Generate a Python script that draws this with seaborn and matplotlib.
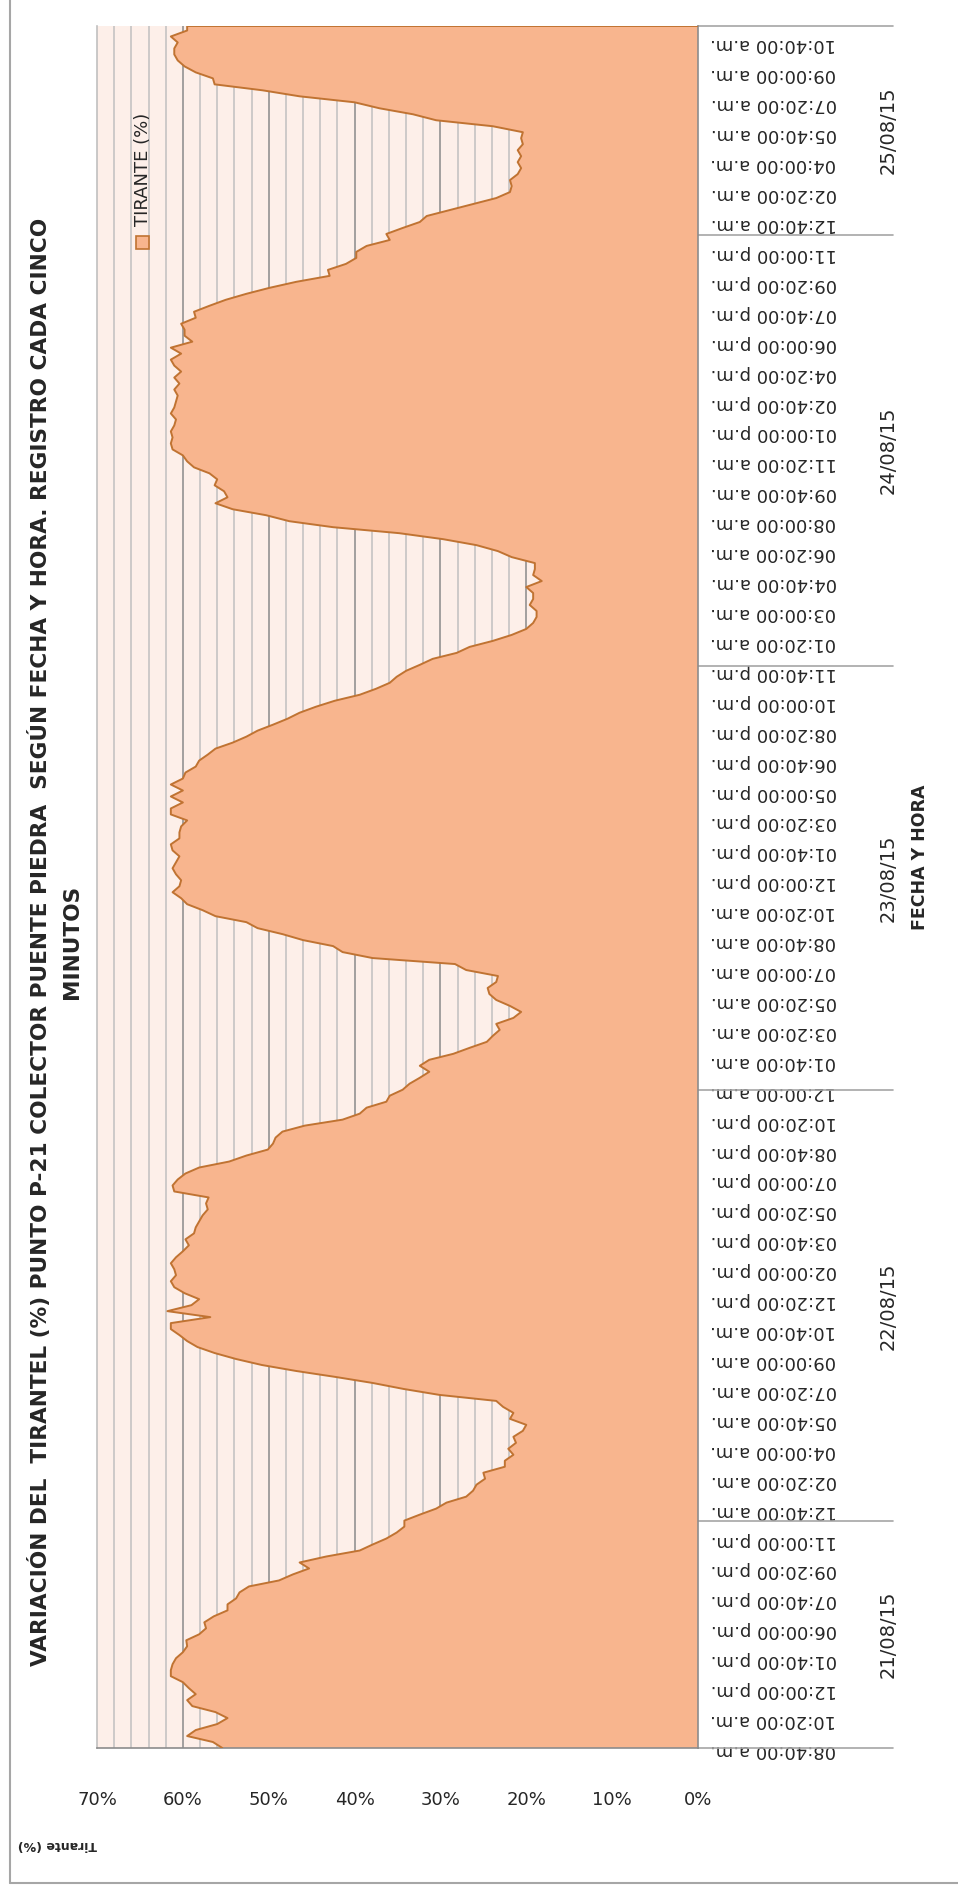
import numpy as np
import matplotlib
matplotlib.use("Agg")
import matplotlib.pyplot as plt
import seaborn as sns
from matplotlib.lines import Line2D
from matplotlib.patches import Rectangle

sns.set_style("white")
plt.rcParams['font.family'] = ['DejaVu Sans']

# tirante (%), one value every 4 records (20 minutes)
tirante = [
    55.4, 56.5, 59.5, 58.5, 56.0, 54.8, 56.2, 58.9, 59.5, 58.5, 59.3, 60.0, 61.4, 61.4, 61.2, 60.8,
    60.0, 59.5, 59.6, 58.1, 57.3, 57.5, 56.4, 54.8, 54.8, 53.8, 53.4, 52.3, 48.8, 47.2, 45.3, 46.4,
    43.3, 39.4, 37.9, 36.3, 35.1, 34.2, 34.2, 32.4, 30.5, 29.3, 27.0,
    26.2, 25.8, 24.8, 25.0, 22.5, 22.5, 21.5, 22.1, 21.2, 21.5, 20.4, 20.0, 21.9, 21.5, 22.7, 23.5,
    30.1, 34.3, 37.9, 42.2, 46.8, 50.8, 53.8, 56.3, 58.3, 59.5, 60.4, 61.4, 61.4, 56.8, 61.8, 59.0,
    58.1, 59.8, 61.0, 61.4, 60.8, 61.0, 61.4, 60.8, 60.0,
    59.3, 59.7, 58.7, 58.5, 58.1, 57.7, 57.1, 57.3, 57.0, 61.0, 61.2, 60.6, 59.7, 58.1, 54.6, 52.6,
    50.1, 49.5, 49.2, 48.4, 45.8, 41.4, 39.4, 38.6, 36.3, 35.9, 34.4, 33.6, 32.4, 31.3, 32.4, 31.3,
    28.5, 26.6, 24.6, 23.9, 23.1, 23.5, 21.5, 20.6, 21.9,
    23.5, 24.3, 24.5, 23.5, 23.3, 27.0, 28.3, 37.9, 41.4, 42.5, 46.0, 48.4, 51.3, 52.6, 56.2, 57.7,
    59.5, 60.2, 61.2, 60.4, 60.2, 60.8, 61.2, 60.8, 60.4, 61.2, 61.4, 60.4, 60.4, 60.2, 59.5, 61.4,
    61.4, 60.0, 61.4, 60.0, 61.4, 60.0, 59.7, 58.5, 58.1,
    57.1, 56.2, 54.2, 52.6, 51.3, 49.5, 47.8, 46.4, 44.5, 42.3, 39.4, 37.5, 35.9, 35.1, 34.0, 32.4,
    30.9, 28.1, 26.6, 23.9, 21.7, 20.0, 19.2, 18.8, 18.8, 19.6, 19.2, 19.2, 20.0, 18.2, 19.2, 19.0,
    19.0, 21.7, 23.3, 25.8, 29.7, 34.8, 42.5, 47.6, 50.3,
    54.2, 56.2, 54.8, 55.2, 56.3, 56.0, 56.9, 58.7, 59.5, 60.0, 61.2, 61.4, 61.2, 61.4, 61.0, 60.8,
    61.4, 61.0, 60.8, 60.6, 61.0, 60.4, 61.0, 60.2, 61.0, 61.4, 60.2, 61.4, 58.9, 59.8, 59.8, 60.2,
    58.5, 58.7, 56.9, 55.0, 52.6, 49.9, 46.8, 42.9, 43.1,
    41.0, 39.8, 39.8, 38.6, 35.9, 36.3, 34.4, 32.4, 31.6, 28.9, 26.2, 23.5, 21.9, 21.7, 21.9, 21.0,
    20.6, 21.0, 20.6, 21.0, 20.4, 20.6, 20.4, 23.9, 30.5, 33.2, 37.1, 40.0, 46.4, 50.7, 56.3, 56.5,
    58.5, 59.8, 60.6, 61.0, 61.0, 60.6, 61.4, 59.5, 59.5,
]
step = 4            # records between two values above
n_records = 1152    # 5-minute records on the category axis

# category labels, one every 20 records
hora_labels = [
    '08:40:00 a.m.', '10:20:00 a.m.', '12:00:00 p.m.', '01:40:00 p.m.', '06:00:00 p.m.',
    '07:40:00 p.m.', '09:20:00 p.m.', '11:00:00 p.m.',
    '12:40:00 a.m.', '02:20:00 a.m.', '04:00:00 a.m.', '05:40:00 a.m.', '07:20:00 a.m.',
    '09:00:00 a.m.', '10:40:00 a.m.', '12:20:00 p.m.', '02:00:00 p.m.', '03:40:00 p.m.',
    '05:20:00 p.m.', '07:00:00 p.m.', '08:40:00 p.m.', '10:20:00 p.m.',
    '12:00:00 a.m.', '01:40:00 a.m.', '03:20:00 a.m.', '05:20:00 a.m.', '07:00:00 a.m.',
    '08:40:00 a.m.', '10:20:00 a.m.', '12:00:00 p.m.', '01:40:00 p.m.', '03:20:00 p.m.',
    '05:00:00 p.m.', '06:40:00 p.m.', '08:20:00 p.m.', '10:00:00 p.m.', '11:40:00 p.m.',
    '01:20:00 a.m.', '03:00:00 a.m.', '04:40:00 a.m.', '06:20:00 a.m.', '08:00:00 a.m.',
    '09:40:00 a.m.', '11:20:00 a.m.', '01:00:00 p.m.', '02:40:00 p.m.', '04:20:00 p.m.',
    '06:00:00 p.m.', '07:40:00 p.m.', '09:20:00 p.m.', '11:00:00 p.m.',
    '12:40:00 a.m.', '02:20:00 a.m.', '04:00:00 a.m.', '05:40:00 a.m.', '07:20:00 a.m.',
    '09:00:00 a.m.', '10:40:00 a.m.',
]
label_every = 20

fechas = ['21/08/15', '22/08/15', '23/08/15', '24/08/15', '25/08/15']
records_per_day = [152, 288, 284, 288, 140]

pct_ticks = [0, 10, 20, 30, 40, 50, 60, 70]

FILL = '#F8B58E'
EDGE = '#C07332'
BG = '#FDEFE9'
GRID_MINOR = '#C0C0C0'
GRID_MAJOR = '#8A8A8A'
AXIS = '#8C8C8C'

W, H = 958, 1892
fig = plt.figure(figsize=(W / 100, H / 100), dpi=100)
ax = fig.add_axes([97 / W, 144 / H, 601 / W, 1722 / H])

pos = np.arange(len(tirante)) * step
vals = np.array(tirante)
top = n_records - 1

ax.set_facecolor(BG)
for v in range(2, 70, 2):
    ax.axvline(v, color=GRID_MAJOR if v % 10 == 0 else GRID_MINOR, lw=1.1, zorder=0.5)

ax.fill_betweenx(pos, 0, vals, facecolor=FILL, edgecolor='none', zorder=2)
sns.lineplot(x=vals, y=pos, orient='y', sort=False, color=EDGE, lw=1.4, ax=ax, zorder=3)
ax.hlines(top, 0, vals[-1], color=EDGE, lw=1.4, zorder=3)

ax.set_xlim(70, 0)
ax.set_ylim(0, top)

ax.set_xticks(pct_ticks)
ax.set_xticklabels([f'{p}%' for p in pct_ticks], fontsize=13)
ax.tick_params(axis='x', length=0, pad=31)

ax.yaxis.tick_right()
ax.set_yticks(np.arange(len(hora_labels)) * label_every)
ax.set_yticklabels(hora_labels, rotation=180, fontsize=13,
                   bbox=dict(facecolor='white', edgecolor='none', boxstyle='square,pad=0.3'))
ax.tick_params(axis='y', length=0, pad=9)
ax.set_xlabel('')
ax.set_ylabel('')

ax.spines['top'].set_visible(False)
ax.spines['left'].set_color(GRID_MINOR)
ax.spines['right'].set_color(AXIS)
ax.spines['bottom'].set_color(AXIS)
for s in ['left', 'right', 'bottom']:
    ax.spines[s].set_linewidth(1.2)

# date groups below the hour labels
bounds = np.concatenate([[0], np.cumsum(records_per_day)]) - 0.5
bounds[0], bounds[-1] = 0, top
trans = ax.get_yaxis_transform()
for b in bounds:
    ax.plot([1.0, 1.325], [b, b], color='#A6A6A6', lw=1.2, transform=trans,
            clip_on=False, zorder=1)
for f, a, b in zip(fechas, bounds[:-1], bounds[1:]):
    ax.text(1.316, (a + b) / 2, f, rotation=90, ha='center', va='center',
            fontsize=14, transform=trans)

fig.text(920 / W, 1 - 857 / H, 'FECHA Y HORA', rotation=90, ha='center', va='center',
         fontsize=12.5, fontweight='bold')
fig.text(57 / W, 1 - 1844 / H, 'Tirante (%)', rotation=180, ha='center', va='center',
         fontsize=9, fontweight='bold')

fig.text(55 / W, 1 - 942 / H,
         'VARIACIÓN DEL  TIRANTEL (%) PUNTO P-21 COLECTOR PUENTE PIEDRA  SEGÚN FECHA Y HORA. '
         'REGISTRO CADA CINCO\nMINUTOS',
         rotation=90, ha='center', va='center', multialignment='center',
         fontsize=15.6, fontweight='bold', linespacing=1.65)

# legend
fig.add_artist(Rectangle((136 / W, 1 - 249 / H), 13 / W, 13 / H, facecolor=FILL,
                         edgecolor=EDGE, lw=1.2, transform=fig.transFigure))
fig.text(143 / W, 1 - 169 / H, 'TIRANTE (%)', rotation=90, ha='center', va='center',
         fontsize=13)

# chart area border
fig.add_artist(Line2D([10 / W, 10 / W], [1 - 1883 / H, 1], color='#A6A6A6', lw=1.5))
fig.add_artist(Line2D([10 / W, 1], [1 - 1883 / H, 1 - 1883 / H], color='#A6A6A6', lw=1.5))

fig.savefig('out.png', dpi=100)
